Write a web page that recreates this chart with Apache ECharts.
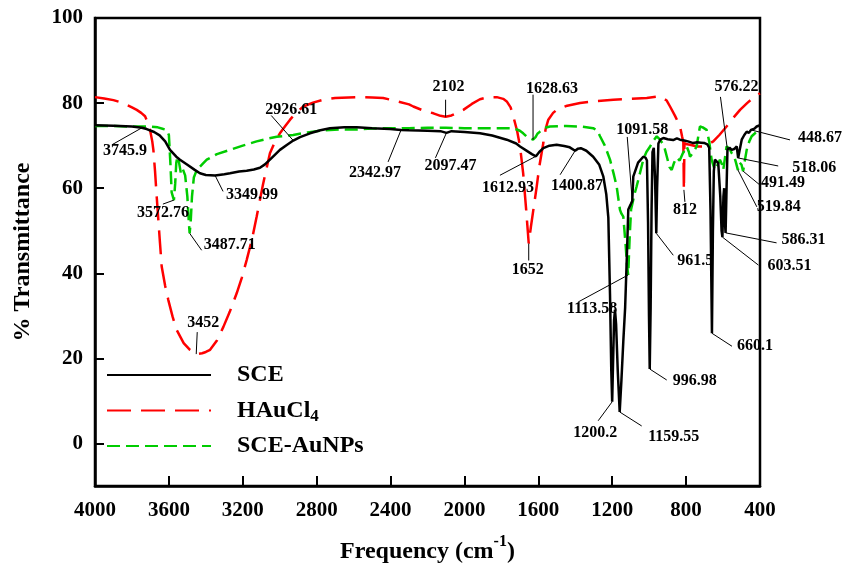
<!DOCTYPE html>
<html>
<head>
<meta charset="utf-8">
<script src="https://cdn.jsdelivr.net/npm/echarts@6/dist/echarts.min.js"></script>
<style>
  html, body { margin: 0; padding: 0; background: #fff; }
  #chart { width: 844px; height: 580px; }
</style>
</head>
<body>
<div id="chart"></div>
<script>
// FTIR spectra: wavenumber (cm-1) and % transmittance for each sample
const sceWave  = [4000,3900,3800,3745.9,3720,3680,3650,3620,3594,3560,3540,3500,3460,3432,3400,3349.99,3300,3269,3220,3179,3140,3107,3080,3053,3025,2999,2960,2926.61,2890,2836,2780,2728,2650,2583,2500,2403,2342.97,2300,2200,2130,2097.47,2070,2000,1916,1850,1771,1720,1699,1660,1635,1612.93,1595,1573,1540,1501,1460,1430,1400.87,1385,1370,1340,1303,1270,1248,1232,1221,1212,1205,1200.2,1196,1190,1185,1179,1170,1159.55,1150,1140,1130,1120,1113,1100,1091.58,1086,1060,1032,1020,1012,1006,1001,996.98,992,987,982,975,968,961.5,957,950,940,923,900,870,850,833,810,790,761,740,720,700,685,675,668,660.1,655,650,644,635,626,615,608,603.51,598,594,590,586.31,582,576.22,565,553,540,526,518.06,510,499,485,472,460,448.67,430,418,400];
const sceT     = [74.8,74.7,74.5,74.2,73.9,73.2,72.4,71.0,69.0,67.4,66.7,65.5,64.3,63.5,63.1,63.0,63.3,63.5,63.9,64.1,64.4,64.8,65.6,66.7,67.9,69.0,70.2,71.2,72.0,72.9,73.6,74.1,74.3,74.3,74.1,73.9,73.7,73.6,73.5,73.4,73.0,73.4,73.2,72.9,72.4,71.4,70.5,69.8,68.7,68.0,67.5,68.5,69.4,70.0,70.2,69.9,69.6,68.8,69.3,69.4,68.8,67.4,65.5,62.7,58.5,53.0,35.0,17.0,9.8,18.0,29.0,31.4,28.0,17.0,7.4,15.0,24.0,32.0,45.0,55.0,56.2,57.0,62.7,66.0,67.4,67.2,66.5,52.0,30.0,17.5,32.0,55.0,68.5,69.5,62.0,49.4,60.0,70.5,71.4,71.8,71.5,71.3,71.7,71.4,71.2,71.0,70.6,70.8,70.7,70.6,70.3,69.5,55.0,25.9,50.0,64.0,66.7,66.5,65.9,58.0,50.0,48.5,58.0,60.0,52.0,49.5,58.0,69.0,69.5,69.0,69.2,69.8,67.1,69.0,71.4,72.5,73.3,73.0,73.7,74.0,74.5,74.8];

const hauWave  = [4000,3950,3900,3847,3800,3774,3750,3729,3715,3702,3690,3684,3675,3666,3657,3648,3639,3620,3603,3580,3558,3520,3486,3452,3420,3400,3377,3340,3305,3270,3233,3205,3179,3150,3125,3090,3053,3025,2999,2970,2944,2910,2872,2820,2764,2700,2583,2500,2440,2380,2300,2277,2220,2168,2130,2102,2070,2040,2006,1960,1916,1870,1825,1790,1771,1750,1735,1715,1699,1682,1666,1652,1640,1625,1610,1595,1573,1560,1546,1520,1501,1450,1374,1300,1194,1100,1013,960,941,920,905,887,860,833,822,815,812,809,795,779,740,707,680,653,620,581,545,508,470,427,400];
const hauT     = [81.4,81.1,80.7,80.0,79.0,78.4,77.7,76.9,75.5,73.7,71.0,69.0,64.0,58.0,52.5,47.0,41.6,37.0,33.7,29.8,26.7,23.6,22.0,21.0,21.2,21.5,22.0,24.2,27.4,31.0,35.3,39.0,43.1,48.0,53.3,61.0,68.2,71.0,72.9,74.6,76.1,77.8,79.2,80.1,80.8,81.2,81.4,81.3,81.2,80.6,79.7,79.2,78.2,77.6,77.0,76.8,77.1,77.7,78.4,79.8,80.9,81.4,81.4,81.0,80.4,79.0,76.8,73.5,69.8,63.5,55.0,47.0,51.0,55.5,60.0,65.0,70.6,74.0,76.1,77.7,78.4,79.3,80.0,80.4,80.8,81.0,81.2,81.5,81.6,81.0,80.6,79.2,77.0,74.5,72.2,70.8,59.6,70.6,70.3,70.2,69.8,69.8,70.3,71.0,72.5,74.5,76.5,78.4,80.0,81.6,82.3];

const aunpWave = [4000,3900,3800,3702,3660,3630,3612,3600,3592,3585,3572.76,3566,3560,3554,3545,3535,3525,3512,3500,3492,3487.71,3482,3475,3465,3449,3420,3395,3340,3269,3200,3125,3060,3016,2970,2927,2850,2764,2680,2583,2500,2403,2300,2200,2100,2000,1916,1800,1735,1700,1682,1660,1628.63,1615,1605,1591,1565,1537,1450,1374,1303,1280,1266,1240,1212,1190,1176,1165,1158,1150,1140,1128,1120,1113.58,1106,1098,1090,1080,1068,1050,1032,1015,995,975,959,941,920,905,890,878,865,851,835,820,797,785,779,760,743,733,725,710,689,675,662,650,644,630,617,605,599,590,581,565,553,540,530,519.84,510,500,491.49,482,472,458,445,430,418,400];
const aunpT    = [74.6,74.6,74.5,74.5,74.3,73.9,73.7,72.5,66.0,59.0,57.2,61.0,66.0,67.4,66.0,63.5,64.5,63.0,58.0,52.0,49.4,52.0,58.0,62.5,64.3,65.6,66.7,68.0,69.0,70.0,71.0,71.7,72.1,72.3,72.5,73.1,73.6,73.8,73.8,74.0,74.1,74.1,74.2,74.2,74.1,74.1,74.1,74.1,73.5,72.9,72.0,71.4,72.0,72.8,73.3,74.2,74.5,74.6,74.5,74.1,73.5,72.2,70.0,66.7,63.0,60.4,57.0,54.9,54.0,53.3,47.0,42.0,39.6,48.0,55.0,56.5,58.5,60.4,63.5,66.7,68.5,69.8,71.3,72.2,71.4,70.0,67.5,65.0,64.3,66.0,67.2,66.5,68.0,69.8,68.5,67.4,68.5,69.8,72.5,74.5,74.3,73.7,71.0,66.7,65.0,64.3,65.5,66.7,65.5,64.3,67.0,69.8,69.3,68.2,67.5,66.0,64.3,66.0,65.5,64.0,66.5,69.0,71.0,72.2,72.8,73.3,74.0];

// Peak annotations: label text and the spectrum it belongs to
const peakLabels = ['3745.9','3572.76','3487.71','3452','3349.99','2926.61','2342.97','2097.47','2102','1628.63','1612.93','1400.87','1652','1113.58','1091.58','1200.2','1159.55','996.98','961.5','812','660.1','603.51','586.31','576.22','519.84','518.06','491.49','448.67'];
const peakSeries = ['SCE','SCE-AuNPs','SCE-AuNPs','HAuCl4','SCE','SCE','SCE','SCE','HAuCl4','SCE-AuNPs','SCE','SCE','HAuCl4','SCE-AuNPs','SCE','SCE','SCE','SCE','SCE','HAuCl4','SCE','SCE','SCE','SCE','SCE-AuNPs','SCE','SCE-AuNPs','SCE'];
// Leader end (dx, dy) and label centre (dx, dy), in pixels from the peak
const peakOffsets = [
  [-30,17,-17,23],[-11,4,-11,13],[12,17,40,12],[1,-22,7,-31],[8,16,37,19],
  [-22,-25,-2,-31],[-13,32,-26,43],[-11,25,4,33],[0,-17,3,-30],[0,-45,19,-51],
  [-36,19,-28,32],[-15,24,2,35],[0,17,-1,26],[-50,27,-36,34],[-5,-64,10,-71],
  [-14,19,-17,31],[22,14,54,25],[17,11,45,12],[17,22,39,28],[1,12,1,20],
  [20,13,43,13],[36,28,67,29],[51,10,78,7],[-7,-53,9,-63],[19,37,41,37],
  [40,8,76,10],[17,14,40,12],[39,10,69,8]
];

const spectra = {
  'SCE': [sceWave, sceT],
  'HAuCl4': [hauWave, hauT],
  'SCE-AuNPs': [aunpWave, aunpT]
};
const pairs = (w, t) => w.map((x, i) => [x, t[i]]);

// Each annotated peak sits on the spectrum point with the same wavenumber
const peakData = peakLabels.map((lab, i) => {
  const [w, t] = spectra[peakSeries[i]];
  const x = parseFloat(lab);
  const k = w.indexOf(x);
  return [x, t[k]];
});

const serif = '"Liberation Serif", "Times New Roman", serif';

const chart = echarts.init(document.getElementById('chart'), null, { renderer: 'canvas' });
chart.setOption({
  animation: false,
  backgroundColor: '#fff',
  grid: {
    left: 95, right: 84, top: 18, bottom: 94,
    show: true, borderColor: '#000', borderWidth: 2.5, backgroundColor: 'transparent'
  },
  legend: {
    orient: 'vertical',
    left: 106, top: 363, padding: 0,
    itemWidth: 104, itemHeight: 14, itemGap: 9,
    itemStyle: { opacity: 0 },
    data: ['SCE', 'HAuCl4', 'SCE-AuNPs'],
    formatter: name => name === 'HAuCl4' ? '{m|HAuCl}{s|4}' : '{m|' + name + '}',
    textStyle: {
      padding: [0, 0, 0, 21],
      rich: {
        m: { fontFamily: serif, fontWeight: 'bold', fontSize: 24, color: '#000', lineHeight: 24 },
        s: { fontFamily: serif, fontWeight: 'bold', fontSize: 17, color: '#000', lineHeight: 17, padding: [12, 0, 0, 0] }
      }
    }
  },
  xAxis: {
    type: 'value', inverse: true, min: 400, max: 4000, interval: 400,
    name: '{a|Frequency (cm}{b|-1}{a|)}',
    nameLocation: 'middle', nameGap: 48,
    nameTextStyle: {
      rich: {
        a: { fontFamily: serif, fontWeight: 'bold', fontSize: 24, color: '#000', lineHeight: 30, verticalAlign: 'bottom' },
        b: { fontFamily: serif, fontWeight: 'bold', fontSize: 16, color: '#000', lineHeight: 16, verticalAlign: 'top' }
      }
    },
    axisLine: { onZero: false, lineStyle: { color: '#000', width: 2.5 } },
    axisTick: { inside: true, length: 10, lineStyle: { color: '#000', width: 2 } },
    axisLabel: { margin: 14, fontFamily: serif, fontWeight: 'bold', fontSize: 21, color: '#000', formatter: v => String(v) },
    splitLine: { show: false }
  },
  yAxis: {
    type: 'value', min: -10, max: 100,
    name: '% Transmittance',
    nameLocation: 'middle', nameGap: 60, nameRotate: 90,
    nameTextStyle: { fontFamily: serif, fontWeight: 'bold', fontSize: 24, color: '#000' },
    axisLine: { onZero: false, lineStyle: { color: '#000', width: 2.5 } },
    axisTick: { inside: true, length: 9, lineStyle: { color: '#000', width: 2 }, customValues: [0, 20, 40, 60, 80, 100] },
    axisLabel: { margin: 12, fontFamily: serif, fontWeight: 'bold', fontSize: 21, color: '#000', customValues: [0, 20, 40, 60, 80, 100] },
    splitLine: { show: false }
  },
  series: [
    {
      name: 'SCE', type: 'line', symbol: 'none', z: 3,
      data: pairs(sceWave, sceT),
      lineStyle: { color: '#000', width: 2.5, type: 'solid' },
      itemStyle: { color: '#000' }
    },
    {
      name: 'HAuCl4', type: 'line', symbol: 'none', z: 2,
      data: pairs(hauWave, hauT),
      lineStyle: { color: '#ff0000', width: 2.5, type: [24, 10] },
      itemStyle: { color: '#ff0000' }
    },
    {
      name: 'SCE-AuNPs', type: 'line', symbol: 'none', z: 2,
      data: pairs(aunpWave, aunpT),
      lineStyle: { color: '#00cc00', width: 2.5, type: [13, 6] },
      itemStyle: { color: '#00cc00' }
    },
    {
      name: 'peaks', type: 'custom', z: 10, silent: true,
      data: peakData,
      renderItem: (params, api) => {
        const p = api.coord([api.value(0), api.value(1)]);
        const o = peakOffsets[params.dataIndex];
        return {
          type: 'group',
          children: [
            { type: 'line', shape: { x1: p[0], y1: p[1], x2: p[0] + o[0], y2: p[1] + o[1] },
              style: { stroke: '#000', lineWidth: 1 } },
            { type: 'text', x: p[0] + o[2], y: p[1] + o[3],
              style: { text: peakLabels[params.dataIndex], fill: '#000',
                       font: 'bold 16px ' + serif, align: 'center', verticalAlign: 'middle' } }
          ]
        };
      }
    }
  ]
});
</script>
</body>
</html>
